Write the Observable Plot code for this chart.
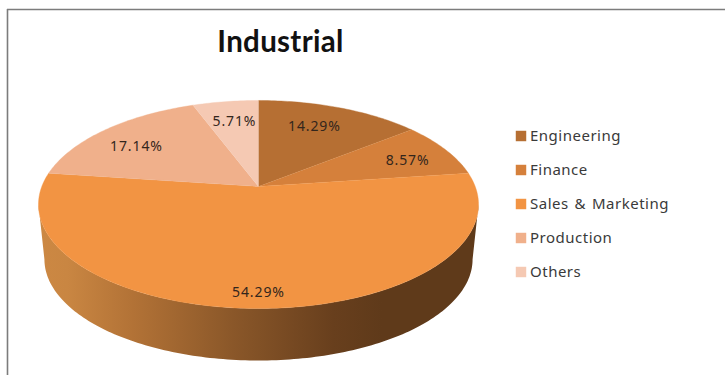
<!DOCTYPE html>
<html>
<head>
<meta charset="utf-8">
<style>
html,body{margin:0;padding:0;background:#fff}
svg{display:block}
.slice-label{letter-spacing:.9px}
.legend-label{letter-spacing:.5px;word-spacing:1.5px}
.chart-title{letter-spacing:.3px}
</style>
<script src="https://cdn.jsdelivr.net/npm/d3@7"></script>
<script src="https://cdn.jsdelivr.net/npm/@observablehq/plot@0.6"></script>
</head>
<body>
<div id="chart"></div>
<script>
const chartTitle = "Industrial";
const departments = ["Engineering", "Finance", "Sales & Marketing", "Production", "Others"];
const shares = [14.29, 8.57, 54.29, 17.14, 5.71];
const sliceColors = ["#b66f33", "#d5803b", "#f29443", "#f0b08b", "#f5c9b3"];
// Where each percentage sits inside its slice: radius fraction and degrees off the mid-angle.
const labelRadius = [0.72, 0.769, 0.889, 0.739, 0.736];
const labelTurn = [-2.2, 2.6, 0, -3.5, 0.5];

const WIDTH = 725, HEIGHT = 375;

// The pie disc is tilted: a unit circle seen in perspective, nearer at the front.
const tilt = 0.173;
const px = d3.scaleLinear([-1, 1], [258 - 216.7, 258 + 216.7]);
const py = d3.scaleLinear([-1, 1], [186 - 100.9, 186 + 100.9]);
const floorScale = 0.973;
const floorDrop = 55.3 / 100.9;

function project(deg, r = 1) {
  const t = deg * Math.PI / 180;
  const u = r * Math.sin(t), v = -r * Math.cos(t);
  const w = 1 - tilt * v;
  return {x: u / w, y: v / w};
}
function floorPoint(deg) {
  const p = project(deg);
  return {x: p.x * floorScale, y: p.y * floorScale + floorDrop};
}

// Slices run clockwise from twelve o'clock.
const total = d3.sum(shares);
const stops = d3.cumsum(shares).map(c => c / total * 360);
const slices = departments.map((name, i) => ({
  name,
  value: shares[i],
  start: i ? stops[i - 1] : 0,
  end: stops[i],
  labelRadius: labelRadius[i],
  labelTurn: labelTurn[i]
}));

const slicePoints = slices.flatMap(s => {
  const rim = [...d3.range(s.start, s.end, 1), s.end].map(a => ({name: s.name, ...project(a)}));
  return [{name: s.name, x: 0, y: 0}, ...rim];
});

// Outer wall of the pie: front half of the top rim (between its widest points),
// then back along the floor rim.
const wallAngles = d3.range(100, 261, 1);
const wallPoints = [
  ...wallAngles.map(a => project(a)),
  ...wallAngles.slice().reverse().map(a => floorPoint(a))
];

const labels = slices.map(s => ({
  text: s.value.toFixed(2) + "%",
  ...project((s.start + s.end) / 2 + s.labelTurn, s.labelRadius)
}));

const legendRows = departments.map((name, i) => ({
  name,
  x: px.invert(520.5),
  tx: px.invert(529.5),
  y: py.invert(135.5 + 34 * i)
}));

const wallGradient = () => {
  const defs = d3.create("svg:defs");
  const g = defs.append("linearGradient").attr("id", "wall-shade");
  [[0, "#cc8843"], [0.066, "#c98642"], [0.216, "#b27236"], [0.443, "#8a5729"],
   [0.67, "#683f1d"], [0.78, "#5f3a1a"], [1, "#5f3a1a"]]
    .forEach(([o, c]) => g.append("stop").attr("offset", o).attr("stop-color", c));
  return defs.node();
};

const chart = Plot.plot({
  width: WIDTH,
  height: HEIGHT,
  margin: 0,
  x: {domain: px.domain(), range: px.range(), axis: null},
  y: {domain: py.domain(), range: py.range(), axis: null},
  color: {domain: departments, range: sliceColors},
  style: {background: "#fff", overflow: "visible"},
  marks: [
    wallGradient,
    Plot.ruleY([py.invert(9)], {x1: px.invert(7), x2: px.invert(WIDTH), stroke: "#7c7c7c", strokeWidth: 1.6}),
    Plot.ruleX([px.invert(7)], {y1: py.invert(9), y2: py.invert(HEIGHT), stroke: "#7c7c7c", strokeWidth: 1.6}),
    Plot.line(wallPoints, {x: "x", y: "y", fill: "url(#wall-shade)", stroke: "none"}),
    Plot.line(slicePoints, {x: "x", y: "y", z: "name", fill: "name", stroke: "name", strokeWidth: 0.4}),
    Plot.text(labels, {x: "x", y: "y", text: "text", className: "slice-label", fontSize: 14, fontFamily: "Noto Sans", fill: "#33261c"}),
    Plot.text([chartTitle], {x: px.invert(280), y: py.invert(42), text: d => d, className: "chart-title", fontSize: 29.5, fontWeight: 700, fontFamily: "Lato", fill: "#111"}),
    Plot.dot(legendRows, {x: "x", y: "y", symbol: "square", r: 5.9, fill: "name", stroke: "none"}),
    Plot.text(legendRows, {x: "tx", y: "y", text: "name", className: "legend-label", textAnchor: "start", fontSize: 15, fontFamily: "Noto Sans", fill: "#3a3a3a"})
  ]
});
document.getElementById("chart").append(chart);
</script>
</body>
</html>
